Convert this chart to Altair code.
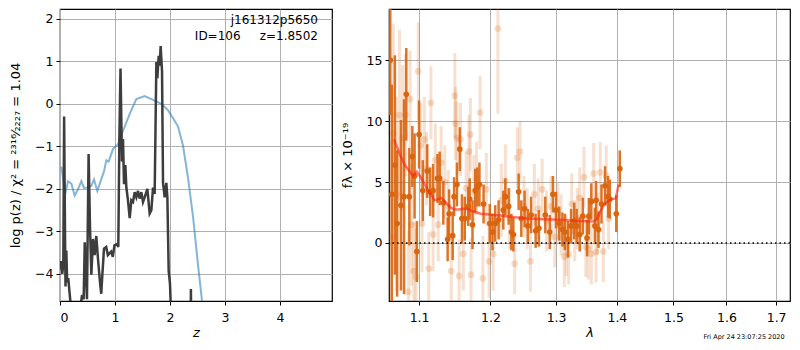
import altair as alt
import pandas as pd

FONT = "DejaVu Sans"

# ---------------- left panel: log p(z) ----------------
blue_z = [0.024, 0.097, 0.145, 0.206, 0.267, 0.327, 0.388, 0.436, 0.509, 0.57, 0.618, 0.679,
          0.739, 0.80, 0.842, 0.885, 0.964, 1.055, 1.145, 1.224, 1.297, 1.388, 1.539, 1.661,
          1.842, 1.964, 2.055, 2.145, 2.236, 2.327, 2.418, 2.509, 2.58, 2.62]
blue_v = [-1.48, -2.12, -1.82, -1.88, -2.16, -2.01, -1.82, -1.98, -1.97, -1.93, -1.78, -2.05,
          -1.82, -1.59, -1.33, -1.36, -1.06, -0.95, -0.64, -0.38, -0.15, 0.11, 0.18, 0.11,
          0.0, -0.15, -0.34, -0.53, -0.98, -1.74, -2.65, -3.79, -4.62, -5.2]

black_z = [0.0, 0.02, 0.04, 0.06, 0.075, 0.09, 0.10, 0.115, 0.13, 0.15, 0.17, 0.20, 0.25, 0.30,
           0.35, 0.38, 0.40, 0.43, 0.45, 0.49, 0.52, 0.545, 0.57, 0.60, 0.63, 0.66, 0.69, 0.73,
           0.75, 0.77, 0.80, 0.84, 0.87, 0.93, 0.96, 0.99, 1.04, 1.06, 1.08, 1.10, 1.127, 1.145,
           1.164, 1.188, 1.206, 1.236, 1.267, 1.297, 1.327, 1.358, 1.388, 1.418, 1.448, 1.479,
           1.509, 1.539, 1.588, 1.63, 1.661, 1.691, 1.721, 1.752, 1.77, 1.794, 1.812, 1.83,
           1.855, 1.873, 1.903, 1.933, 1.952, 1.976, 2.0, 2.012, 2.05, 2.37, 2.38, 2.39]
black_v = [-3.9, -3.7, -4.0, -3.8, -0.3, -2.9, -4.3, -3.45, -4.2, -4.1, -4.39, -4.8, -6.0, -6.0,
           -6.0, -4.7, -4.5, -4.6, -3.26, -4.6, -1.18, -2.88, -4.02, -3.18, -3.56, -3.11, -3.64,
           -4.24, -4.47, -4.02, -3.41, -3.37, -3.56, -3.48, -3.6, -3.33, -3.3, -3.37, -0.76, 0.83,
           -1.36, -0.83, -1.89, -1.44, -1.97, -2.27, -2.69, -2.27, -2.31, -2.08, -2.2, -2.05,
           -2.23, -2.08, -2.31, -2.2, -2.0, -2.58, -2.5, -1.97, -2.12, 0.98, 0.6, 1.13, 0.9, 1.36,
           0.76, -1.86, -2.2, -1.86, -2.2, -3.94, -4.24, -4.7, -6.0, -6.0, -4.36, -6.0]

# ---------------- right panel: spectrum ----------------
dark_lam = [1.062, 1.064, 1.068, 1.071, 1.076, 1.080, 1.083, 1.087, 1.091, 1.094, 1.097, 1.100,
            1.105, 1.111, 1.115, 1.119, 1.125, 1.128, 1.133, 1.139, 1.141, 1.146, 1.148, 1.152,
            1.156, 1.159, 1.163, 1.168, 1.170, 1.174, 1.178, 1.181, 1.184, 1.190, 1.199, 1.203,
            1.207, 1.212, 1.219, 1.222, 1.227, 1.231, 1.234, 1.242, 1.246, 1.251, 1.256, 1.261,
            1.268, 1.273, 1.283, 1.290, 1.295, 1.300, 1.305, 1.310, 1.314, 1.319, 1.324, 1.329,
            1.333, 1.338, 1.343, 1.350, 1.353, 1.357, 1.363, 1.365, 1.369, 1.374, 1.380, 1.385,
            1.388, 1.399, 1.405]
dark_f = [15.0, 4.0, 6.4, 1.6, 3.1, 3.8, 12.2, 3.8, 7.1, 5.5, -0.7, 8.9,
          4.3, 5.9, 4.2, 4.3, 5.3, 5.3, 3.3, 0.3, 2.4, 0.6, 3.8, 4.8,
          7.7, 2.0, 2.0, 3.0, 3.6, 1.5, 4.3, 4.6, 4.8, 3.2, 1.6, 0.9,
          1.6, 1.9, 2.7, 3.8, 3.0, 0.9, 0.7, 4.2, 2.0, 2.8, 1.4, 2.3,
          1.0, 1.2, 2.3, 0.9, 4.0, 2.7, 1.6, 1.1, 0.9, 0.3, 1.4, 1.8,
          1.4, 0.7, 2.2, 0.4, 2.2, 3.4, 1.4, 3.5, 1.1, 3.2, 4.7, 3.8,
          3.6, 2.4, 6.1]
dark_err = [4.5, 9.0, 9.0, 6.0, 7.0, 8.0, 3.8, 4.0, 2.5, 3.5, 2.5, 2.8,
            2.5, 2.2, 2.0, 2.2, 2.0, 2.2, 1.8, 1.8, 2.0, 2.0, 1.6, 1.8,
            1.8, 2.0, 1.8, 1.6, 1.7, 2.0, 1.8, 1.6, 1.8, 1.6, 1.6, 1.5,
            1.5, 1.6, 1.6, 1.5, 1.5, 1.5, 1.4, 1.5, 1.5, 1.5, 1.4, 1.5,
            1.4, 1.5, 1.5, 1.4, 1.5, 1.5, 1.4, 1.4, 1.5, 1.5, 1.4, 1.5,
            1.4, 1.4, 1.5, 1.5, 1.5, 1.5, 1.5, 1.6, 1.5, 1.6, 1.6, 1.7,
            1.6, 1.5, 1.5]

light_lam = [1.063, 1.066, 1.070, 1.074, 1.078, 1.082, 1.086, 1.088, 1.090, 1.093, 1.096, 1.099,
             1.102, 1.104, 1.107, 1.110, 1.113, 1.116, 1.119, 1.122, 1.126, 1.130, 1.135, 1.140,
             1.144, 1.149, 1.150, 1.152, 1.155, 1.157, 1.161, 1.165, 1.169, 1.171, 1.172, 1.176,
             1.180, 1.185, 1.189, 1.194, 1.198, 1.204, 1.211, 1.216, 1.222, 1.228, 1.236, 1.240,
             1.244, 1.250, 1.255, 1.260, 1.266, 1.272, 1.278, 1.285, 1.292, 1.298, 1.303, 1.308,
             1.313, 1.316, 1.320, 1.325, 1.330, 1.334, 1.338, 1.345, 1.348, 1.352, 1.357, 1.361,
             1.365, 1.367, 1.372, 1.377, 1.382, 1.386]
light_f = [0.5, 9.0, 4.0, 10.5, 8.6, 10.5, -4.0, 11.8, 1.5, -2.3, -2.8, 14.1,
           8.0, 1.6, 8.5, 6.1, -2.1, 11.5, 0.7, 6.8, 1.5, 6.6, 5.0, 3.0,
           -2.3, 12.1, 9.8, 8.6, -2.7, 8.5, -0.9, 4.5, 7.5, 8.9, -2.6, 4.2,
           5.3, 10.7, -2.9, 4.4, -1.5, -0.9, 17.6, 3.5, 5.1, 2.0, -1.7, 7.0,
           7.5, 3.0, 2.0, -1.5, 4.0, 2.8, 4.4, 1.8, 3.0, 0.5, 2.4, 1.5,
           -1.1, -0.2, -0.9, 3.2, 1.0, 2.0, 3.7, 5.4, -0.3, -0.5, -0.9, 5.7,
           -0.75, 1.6, 5.8, -0.7, 5.5, 2.0]
light_err = [8, 9, 8, 7, 6, 5, 5, 4, 5, 4, 4, 4,
             3.5, 4, 3.5, 3, 3, 3, 3, 3, 3, 3, 3, 3,
             3, 3.5, 3, 3, 3, 3, 3, 3, 3, 3, 3, 3,
             3, 3, 3.5, 3, 3, 3, 7, 3, 3, 2.5, 2.5, 2.5,
             2.5, 2.5, 2.5, 2.5, 2.5, 2.5, 2.5, 2.5, 2.5, 2.5, 2.5, 2.5,
             2.5, 2.5, 2.5, 2.5, 2.5, 2.5, 2.5, 2.5, 2.5, 2.5, 2.5, 2.5,
             2.5, 2.5, 2.5, 2.5, 2.5, 2.5]

model_lam = [1.067, 1.075, 1.081, 1.087, 1.092, 1.097, 1.101, 1.106, 1.112, 1.117, 1.121, 1.126,
             1.130, 1.134, 1.138, 1.143, 1.149, 1.155, 1.162, 1.167, 1.174, 1.180, 1.186, 1.195,
             1.205, 1.215, 1.230, 1.255, 1.280, 1.306, 1.330, 1.350, 1.360, 1.366, 1.372, 1.378,
             1.385, 1.392, 1.398, 1.403]
model_f = [8.5, 7.2, 6.4, 5.9, 5.5, 5.84, 5.5, 5.0, 4.3, 3.9, 3.5, 3.6,
           3.7, 3.5, 3.2, 2.9, 2.75, 2.75, 2.8, 2.8, 2.6, 2.5, 2.4, 2.35,
           2.3, 2.25, 2.15, 2.0, 1.95, 1.9, 1.83, 1.78, 1.77, 1.9, 2.6, 3.1,
           3.45, 3.6, 3.65, 4.8]

ANNOT1 = "j161312p5650"
ANNOT2 = "ID=106\u00a0\u00a0\u00a0\u00a0\u00a0z=1.8502"
DATE = "Fri Apr 24 23:07:25 2020"

MINUS = "replace(datum.label, '-', '\u2212')"

LW, LH = 272, 292
RW, RH = 401, 292
ORANGE = "#d9650f"
YR = [-4.76, 19.2]

# ---------- left ----------
xl = alt.X("z:Q", scale=alt.Scale(domain=[0, 4.945], nice=False, zero=False),
           axis=alt.Axis(values=[0, 1, 2, 3, 4], format="d", title="z", titleFontStyle="italic"))
yl = alt.Y("v:Q", scale=alt.Scale(domain=[-4.64, 2.23], nice=False, zero=False),
           axis=alt.Axis(values=[-4, -3, -2, -1, 0, 1, 2], labelExpr=MINUS,
                         title="log p(z) / \u03c7\u00b2 = \u00b2\u00b3\u00b9\u2076\u2044\u2082\u2082\u2082\u2087 = 1.04",
                         titlePadding=12))

bdf = pd.DataFrame({"z": blue_z, "v": blue_v, "i": range(len(blue_z))})
kdf = pd.DataFrame({"z": black_z, "v": black_v, "i": range(len(black_z))})

left_blue = alt.Chart(bdf).mark_line(color="#1f77b4", opacity=0.55, strokeWidth=2, clip=True).encode(
    x=xl, y=yl, order="i:Q")
left_black = alt.Chart(kdf).mark_line(color="#333333", opacity=0.95, strokeWidth=2.5, clip=True).encode(
    x="z:Q", y="v:Q", order="i:Q")
ann1 = alt.Chart(pd.DataFrame({"t": [ANNOT1]})).mark_text(
    align="right", baseline="middle", fontSize=12, font=FONT, color="black").encode(
    x=alt.value(LW - 14), y=alt.value(11), text="t:N")
ann2 = alt.Chart(pd.DataFrame({"t": [ANNOT2]})).mark_text(
    align="right", baseline="middle", fontSize=12, font=FONT, color="black").encode(
    x=alt.value(LW - 14), y=alt.value(27), text="t:N")

left = alt.layer(left_blue, left_black, ann1, ann2).properties(width=LW, height=LH)

# ---------- right ----------
ddf = pd.DataFrame({"lam": dark_lam, "f": dark_f, "e": dark_err})
ldf = pd.DataFrame({"lam": light_lam, "f": light_f, "e": light_err})
mdf = pd.DataFrame({"lam": model_lam, "f": model_f, "i": range(len(model_lam))})

xr = alt.X("lam:Q", scale=alt.Scale(type="log", domain=[1.0604, 1.729], nice=False),
           axis=alt.Axis(values=[1.1, 1.2, 1.3, 1.4, 1.5, 1.6, 1.7], format=".1f",
                         title="\u03bb", titleFontStyle="italic"))

light_bars = alt.Chart(ldf).transform_calculate(lo="datum.f - datum.e", hi="datum.f + datum.e").mark_rule(
    color=ORANGE, opacity=0.2, strokeWidth=3, clip=True).encode(
    x=xr, y=alt.Y("lo:Q", scale=alt.Scale(domain=YR, nice=False, zero=False),
                  axis=alt.Axis(values=[0, 5, 10, 15], labelExpr=MINUS,
                                title="f\u03bb \u00d7 10\u207b\u00b9\u2079", titlePadding=12)),
    y2="hi:Q")
light_pts = alt.Chart(ldf).mark_circle(color=ORANGE, opacity=0.22, size=45, clip=True).encode(
    x="lam:Q", y="f:Q")
dark_bars = alt.Chart(ddf).transform_calculate(lo="datum.f - datum.e", hi="datum.f + datum.e").mark_rule(
    color=ORANGE, opacity=0.9, strokeWidth=2.5, clip=True).encode(
    x="lam:Q", y="lo:Q", y2="hi:Q")
dark_pts = alt.Chart(ddf).mark_circle(color=ORANGE, opacity=1, size=32, clip=True).encode(
    x="lam:Q", y="f:Q")
model = alt.Chart(mdf).mark_line(color="#ff2010", opacity=0.6, strokeWidth=2.5, clip=True).encode(
    x="lam:Q", y="f:Q", order="i:Q")
zero = alt.Chart(pd.DataFrame({"f": [0]})).mark_rule(
    color="black", strokeDash=[1.5, 3], strokeWidth=1.6).encode(y="f:Q")
date = alt.Chart(pd.DataFrame({"t": [DATE]})).mark_text(
    align="center", baseline="middle", fontSize=6.5, font=FONT, color="black").encode(
    x=alt.value(355), y=alt.value(RH + 36), text="t:N")

right = alt.layer(light_bars, light_pts, dark_bars, dark_pts, model, zero, date).properties(
    width=RW, height=RH)

chart = alt.hconcat(left, right, spacing=7).properties(
    padding={"left": 0, "top": 0, "right": 0, "bottom": 0}
).configure_view(stroke="black", strokeWidth=1.2).configure_axis(
    labelFont=FONT, titleFont=FONT, labelFontSize=12.5, titleFontSize=13,
    labelColor="black", titleColor="black", titleFontWeight="normal",
    tickColor="black", tickSize=4, labelPadding=3, domain=False,
    grid=True, gridColor="#b0b0b0", gridWidth=1
).configure_axisX(labelPadding=6, titlePadding=3)

chart.save("out.html", embed_options={"renderer": "svg", "actions": False})
